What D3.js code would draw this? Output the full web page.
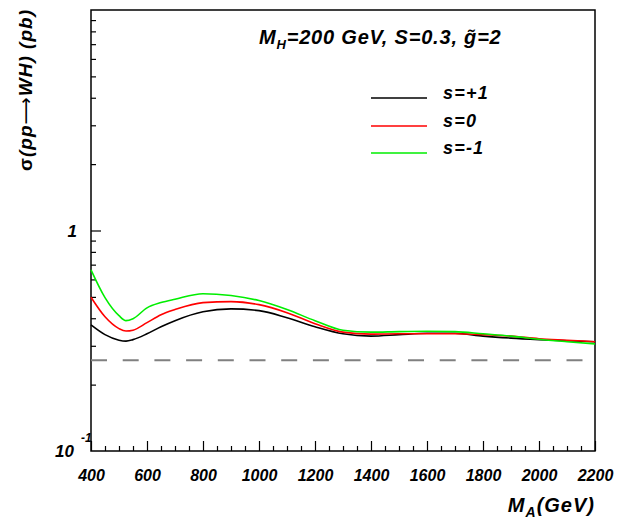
<!DOCTYPE html>
<html>
<head>
<meta charset="utf-8">
<script src="https://cdn.jsdelivr.net/npm/d3@7"></script>
<style>
  body { margin: 0; background: #fff; }
  svg { display: block; }
  text { font-family: "Liberation Sans", Arial, Helvetica, sans-serif; font-weight: bold; font-style: italic; fill: #000; }
</style>
</head>
<body>
<svg id="chart" width="619" height="521"></svg>
<script>
// M_A values (GeV)
var massA = [400, 450, 500, 525, 550, 600, 650, 700, 800, 900, 1000, 1100, 1200, 1300, 1400, 1500, 1600, 1700, 1800, 1900, 2000, 2100, 2200];
// sigma(pp -> WH) in pb
var sPlus1 = [0.373, 0.337, 0.318, 0.315, 0.320, 0.340, 0.366, 0.390, 0.428, 0.441, 0.433, 0.402, 0.366, 0.340, 0.332, 0.337, 0.342, 0.342, 0.332, 0.325, 0.320, 0.316, 0.313];
var sZero  = [0.498, 0.406, 0.359, 0.350, 0.353, 0.382, 0.415, 0.438, 0.471, 0.476, 0.461, 0.424, 0.378, 0.346, 0.339, 0.340, 0.340, 0.340, 0.337, 0.332, 0.323, 0.318, 0.313];
var sMinus1 = [0.663, 0.496, 0.411, 0.390, 0.398, 0.446, 0.471, 0.488, 0.517, 0.507, 0.481, 0.438, 0.390, 0.353, 0.346, 0.348, 0.349, 0.348, 0.340, 0.332, 0.321, 0.313, 0.306];
var dashedLevel = [0.258];

var seriesNames = ["s=+1", "s=0", "s=-1"];
var seriesColors = ["#000000", "#ff0000", "#00ee00"];
var seriesData = [sPlus1, sZero, sMinus1];

var xTicks = [400, 600, 800, 1000, 1200, 1400, 1600, 1800, 2000, 2200];

var svg = d3.select("#chart");
var frame = {left: 91, top: 10, right: 595, bottom: 451};

var xScale = d3.scaleLinear().domain([400, 2200]).range([frame.left, frame.right]);
var yScale = d3.scaleLog().domain([0.1, 10]).range([frame.bottom, frame.top]);

// minor ticks
var xMinor = d3.range(400, 2201, 50).filter(function(d) { return d % 200 !== 0; });
var yMinor = [];
[0.1, 1].forEach(function(dec) {
  for (var k = 2; k <= 9; k++) yMinor.push(dec * k);
});

svg.append("g")
  .attr("transform", "translate(0," + frame.bottom + ")")
  .call(d3.axisBottom(xScale).tickValues(xMinor).tickSize(-5).tickFormat(""))
  .call(function(g) { g.select(".domain").remove(); });

var xAxis = svg.append("g")
  .attr("transform", "translate(0," + frame.bottom + ")")
  .call(d3.axisBottom(xScale).tickValues(xTicks).tickSizeInner(-10).tickSizeOuter(0).tickPadding(19).tickFormat(d3.format("d")));
xAxis.select(".domain").remove();
xAxis.selectAll("text").style("font-size", "16px");

svg.append("g")
  .attr("transform", "translate(" + frame.left + ",0)")
  .call(d3.axisLeft(yScale).tickValues(yMinor).tickSize(-5).tickFormat(""))
  .call(function(g) { g.select(".domain").remove(); });

svg.append("g")
  .attr("transform", "translate(" + frame.left + ",0)")
  .call(d3.axisLeft(yScale).tickValues([1]).tickSize(-10).tickFormat(""))
  .call(function(g) { g.select(".domain").remove(); });

svg.selectAll(".tick line").attr("stroke", "#000").attr("stroke-width", 1.2);

// y tick labels
svg.append("text")
  .attr("x", frame.left - 14).attr("y", yScale(1) + 6)
  .attr("text-anchor", "end").style("font-size", "17px").text("1");
var lab = svg.append("text")
  .attr("x", 55).attr("y", yScale(0.1) + 6)
  .style("font-size", "17px");
lab.append("tspan").text("10");
lab.append("tspan").attr("dx", 7).attr("dy", -15).style("font-size", "12px").text("-1");

// frame
svg.append("rect")
  .attr("x", frame.left).attr("y", frame.top)
  .attr("width", frame.right - frame.left).attr("height", frame.bottom - frame.top)
  .attr("fill", "none").attr("stroke", "#000").attr("stroke-width", 1.5);

// dashed reference line
svg.append("line")
  .attr("x1", xScale(400)).attr("x2", xScale(2200))
  .attr("y1", yScale(dashedLevel[0])).attr("y2", yScale(dashedLevel[0]))
  .attr("stroke", "#808080").attr("stroke-width", 2)
  .attr("stroke-dasharray", "16,15.7");

var line = d3.line()
  .x(function(d, i) { return xScale(massA[i]); })
  .y(function(d) { return yScale(d); })
  .curve(d3.curveMonotoneX);

seriesData.forEach(function(s, i) {
  svg.append("path")
    .attr("d", line(s))
    .attr("fill", "none")
    .attr("stroke", seriesColors[i])
    .attr("stroke-width", 1.6);
});

// legend
var legY = [98, 126, 153];
seriesNames.forEach(function(n, i) {
  svg.append("line")
    .attr("x1", 371).attr("x2", 427)
    .attr("y1", legY[i]).attr("y2", legY[i])
    .attr("stroke", seriesColors[i]).attr("stroke-width", 1.6);
  svg.append("text")
    .attr("x", 443).attr("y", legY[i] + 1)
    .style("font-size", "18px").style("letter-spacing", "1.2px").text(n);
});

// title
var title = svg.append("text")
  .attr("x", 259).attr("y", 44)
  .style("font-size", "20px").style("letter-spacing", "0.8px");
title.append("tspan").text("M");
title.append("tspan").attr("dy", 5).style("font-size", "13px").text("H");
title.append("tspan").attr("dy", -5).text("=200 GeV, S=0.3, g\u0303=2");

// axis titles
var xt = svg.append("text")
  .attr("x", 595).attr("y", 512)
  .attr("text-anchor", "end")
  .style("font-size", "20px").style("letter-spacing", "1px");
xt.append("tspan").text("M");
xt.append("tspan").attr("dy", 5).style("font-size", "14px").text("A");
xt.append("tspan").attr("dy", -5).text("(GeV)");

var yt = svg.append("text")
  .attr("transform", "translate(32,90) rotate(-90)")
  .attr("text-anchor", "middle")
  .style("font-size", "19px").style("letter-spacing", "1px");
yt.append("tspan").style("font-style", "normal").text("\u03c3");
yt.append("tspan").text("(pp");
yt.append("tspan").style("font-family", "DejaVu Sans").style("font-weight", "normal").style("font-style", "normal").text("\u27f6");
yt.append("tspan").text("WH) (pb)");
</script>
</body>
</html>
